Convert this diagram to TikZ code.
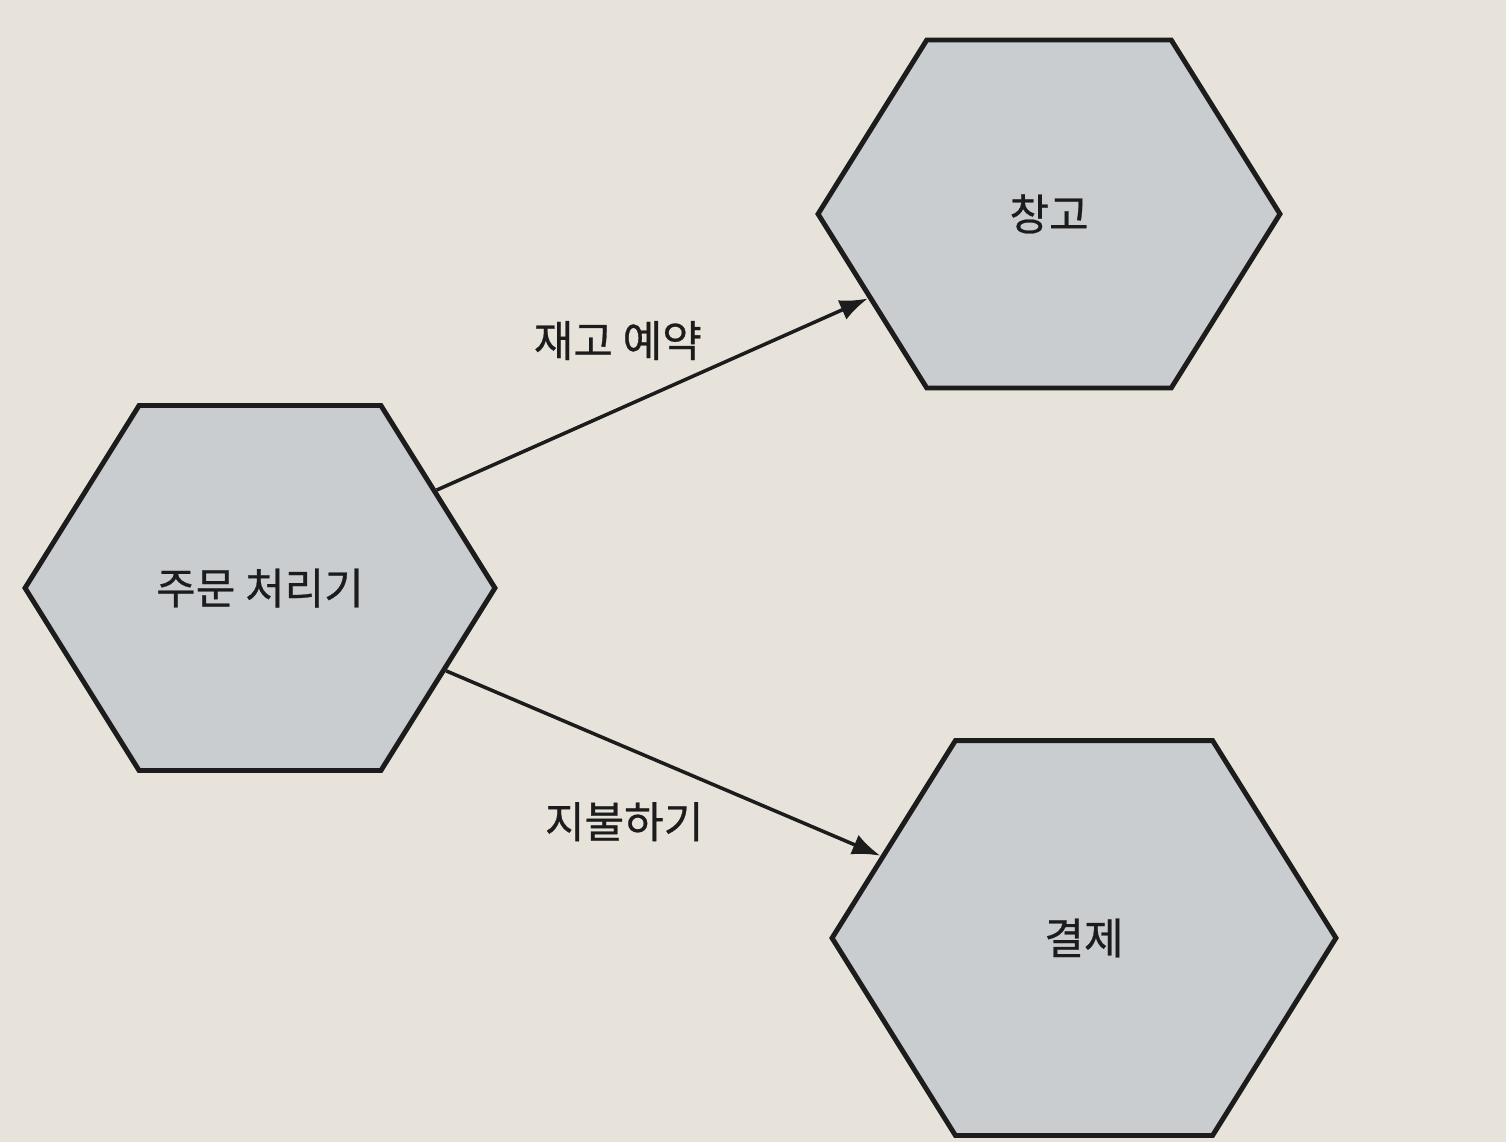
\documentclass[tikz,border=0pt]{standalone}
\usepackage{fontspec}
\setmainfont[FakeBold=0.6]{Noto Sans CJK KR}
\usetikzlibrary{shapes.symbols,arrows.meta}

\definecolor{paper}{RGB}{231,227,218}
\definecolor{hexfill}{RGB}{201,205,208}
\definecolor{ink}{RGB}{28,28,28}

\begin{document}
\begin{tikzpicture}[x=0.02cm,y=-0.02cm,
    hexbox/.style={signal,signal to=west and east,signal pointer angle=116,
        draw=ink,fill=hexfill,line width=2.8pt,text=ink,
        font=\fontsize{24.5}{30}\selectfont},
    flow/.style={draw=ink,line width=2pt,-{Latex[length=16pt,width=12pt]}},
    flowlabel/.style={text=ink,font=\fontsize{24.5}{30}\selectfont}]

    % Page
    \fill[paper] (0,0) rectangle (1506,1142);
    \useasboundingbox (0,0) rectangle (1506,1142);

    % Hexagons
    \node[hexbox,minimum width=9.4cm,minimum height=7.3cm]
        (order) at (260,588) {주문 처리기};
    \node[hexbox,minimum width=9.24cm,minimum height=6.96cm]
        (depot) at (1049,214) {창고};
    \node[hexbox,minimum width=10.08cm,minimum height=7.9cm]
        (payment) at (1084,938) {결제};

    % Connectors
    \draw[flow] (order.29) -- (depot.205)
        node[flowlabel,pos=0.42,yshift=1.38cm] {재고 예약};
    \draw[flow] (order.-24) -- (payment.158)
        node[flowlabel,pos=0.41,yshift=-1.5cm] {지불하기};

\end{tikzpicture}
\end{document}
